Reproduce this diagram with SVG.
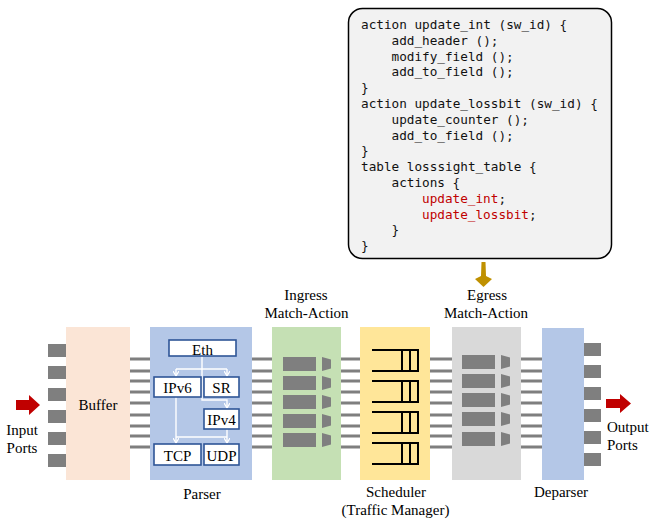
<svg xmlns="http://www.w3.org/2000/svg" width="650" height="521" viewBox="0 0 650 521">
<style>
  .lbl { font-family: "Liberation Serif", "Times New Roman", serif; font-size: 15px; fill: #000; }
  .mid { text-anchor: middle; }
  .code { font-family: "DejaVu Sans Mono", "Liberation Mono", monospace; font-size: 12.7px; fill: #111; }
  .red { fill: #C00000; }
  .port { fill: #7F7F7F; }
  .wire { stroke: #7F7F7F; stroke-width: 3; }
  .pbox { fill: #FFFFFF; stroke: #2F5597; stroke-width: 1.6; }
  .warrow { fill: none; stroke: #FFFFFF; stroke-width: 1.4; }
  .bar { fill: #7F7F7F; }
  .q { fill: none; stroke: #000; stroke-width: 2; }
</style>
<defs>
  <marker id="wh" markerWidth="6" markerHeight="6" refX="5" refY="3" orient="auto" markerUnits="userSpaceOnUse">
    <path d="M0,0 L5,3 L0,6" fill="none" stroke="#FFFFFF" stroke-width="1.2"/>
  </marker>
  <g id="trap"><polygon points="0,0 9,2.5 9,11.5 0,14" fill="#7F7F7F"/></g>
  <g id="queue">
    <path class="q" d="M372,0 H418 V21 H372 M402,0 V21 M410,0 V21"/>
  </g>
</defs>

<!-- code box -->
<g id="code-box">
  <rect x="348.5" y="8.5" width="263" height="250" rx="14" fill="#F2F2F2" stroke="#000" stroke-width="1.5"/>
  <text class="code">
    <tspan x="361" y="29">action update_int (sw_id) {</tspan>
    <tspan x="391.5" y="44.8">add_header ();</tspan>
    <tspan x="391.5" y="60.6">modify_field ();</tspan>
    <tspan x="391.5" y="76.4">add_to_field ();</tspan>
    <tspan x="361" y="92.2">}</tspan>
    <tspan x="361" y="108">action update_lossbit (sw_id) {</tspan>
    <tspan x="391.5" y="123.8">update_counter ();</tspan>
    <tspan x="391.5" y="139.6">add_to_field ();</tspan>
    <tspan x="361" y="155.4">}</tspan>
    <tspan x="361" y="171.2">table losssight_table {</tspan>
    <tspan x="391.5" y="187">actions {</tspan>
    <tspan x="422" y="202.8" class="red">update_int</tspan><tspan>;</tspan>
    <tspan x="422" y="218.6" class="red">update_lossbit</tspan><tspan>;</tspan>
    <tspan x="391.5" y="234.4">}</tspan>
    <tspan x="361" y="250.2">}</tspan>
  </text>
</g>

<!-- connectors -->
<g id="connectors">
  <g id="wires">
    <path class="wire" d="M130,359H150 M130,371H150 M130,381H150 M130,392H150 M130,403H150 M130,415H150 M130,426H150 M130,436H150 M130,447H150"/>
    <path class="wire" d="M252,359H272 M252,371H272 M252,381H272 M252,392H272 M252,403H272 M252,415H272 M252,426H272 M252,436H272 M252,447H272"/>
    <path class="wire" d="M341,359H360 M341,371H360 M341,381H360 M341,392H360 M341,403H360 M341,415H360 M341,426H360 M341,436H360 M341,447H360"/>
    <path class="wire" d="M430,359H452 M430,371H452 M430,381H452 M430,392H452 M430,403H452 M430,415H452 M430,426H452 M430,436H452 M430,447H452"/>
    <path class="wire" d="M521,359H542 M521,371H542 M521,381H542 M521,392H542 M521,403H542 M521,415H542 M521,426H542 M521,436H542 M521,447H542"/>
  </g>
  <path id="in-arrow" d="M16,400 H29 V395 L40,405 L29,415 V410 H16 Z" fill="#C00000"/>
  <path id="out-arrow" d="M606,399 H620 V394 L631,403.5 L620,413 V408 H606 Z" fill="#C00000"/>
  <path id="code-arrow" d="M481.5,262 L485.5,262 L486,276 L492,279 L483.5,287 L475,279 L481,276 Z" fill="#BF9000"/>
</g>

<!-- input ports -->
<g id="input-ports">
  <rect class="port" x="48" y="344" width="18" height="13"/>
  <rect class="port" x="48" y="366" width="18" height="13"/>
  <rect class="port" x="48" y="388" width="18" height="13"/>
  <rect class="port" x="48" y="410" width="18" height="13"/>
  <rect class="port" x="48" y="432" width="18" height="13"/>
  <rect class="port" x="48" y="454" width="18" height="13"/>
  <text class="lbl mid" x="22" y="435">Input</text>
  <text class="lbl mid" x="22" y="453">Ports</text>
</g>

<!-- buffer -->
<g id="buffer">
  <rect x="66" y="327" width="64" height="153" fill="#FBE5D6"/>
  <text class="lbl mid" x="98" y="410">Buffer</text>
</g>

<!-- parser -->
<g id="parser">
  <rect x="150" y="327" width="102" height="153" fill="#B4C7E7"/>
  <text class="lbl mid" x="202" y="499">Parser</text>
  <g id="parser-arrows">
    <path class="warrow" d="M202,356 V400 H227 V408" marker-end="url(#wh)"/>
    <path class="warrow" d="M176,369 H227"/>
    <path class="warrow" d="M176,369 V376" marker-end="url(#wh)"/>
    <path class="warrow" d="M227,369 V376" marker-end="url(#wh)"/>
    <path class="warrow" d="M176,397 V443" marker-end="url(#wh)"/>
    <path class="warrow" d="M176,437 H227"/>
    <path class="warrow" d="M227,429 V443" marker-end="url(#wh)"/>
  </g>
  <g id="eth"><rect class="pbox" x="169" y="340" width="67" height="16"/><text class="lbl mid" x="202.5" y="354.5">Eth</text></g>
  <g id="ipv6"><rect class="pbox" x="154" y="377" width="47" height="20"/><text class="lbl mid" x="177.5" y="393">IPv6</text></g>
  <g id="sr"><rect class="pbox" x="204" y="377" width="35" height="20"/><text class="lbl mid" x="221.5" y="393">SR</text></g>
  <g id="ipv4"><rect class="pbox" x="204" y="409" width="35" height="20"/><text class="lbl mid" x="221.5" y="425">IPv4</text></g>
  <g id="tcp"><rect class="pbox" x="154" y="444" width="47" height="21"/><text class="lbl mid" x="177.5" y="461">TCP</text></g>
  <g id="udp"><rect class="pbox" x="204" y="444" width="35" height="21"/><text class="lbl mid" x="221.5" y="461">UDP</text></g>
</g>

<!-- ingress -->
<g id="ingress">
  <rect x="272" y="327" width="69" height="153" fill="#C5E0B4"/>
  <rect class="bar" x="283" y="357" width="33" height="14"/>
  <rect class="bar" x="283" y="376" width="33" height="14"/>
  <rect class="bar" x="283" y="395" width="33" height="14"/>
  <rect class="bar" x="283" y="414" width="33" height="14"/>
  <rect class="bar" x="283" y="433" width="33" height="14"/>
  <use href="#trap" x="322" y="357"/>
  <use href="#trap" x="322" y="376"/>
  <use href="#trap" x="322" y="395"/>
  <use href="#trap" x="322" y="414"/>
  <use href="#trap" x="322" y="433"/>
  <text class="lbl mid" x="306" y="300">Ingress</text>
  <text class="lbl mid" x="306.5" y="318">Match-Action</text>
</g>

<!-- scheduler -->
<g id="scheduler">
  <rect x="360" y="327" width="70" height="153" fill="#FFE699"/>
  <use href="#queue" y="350"/>
  <use href="#queue" y="381"/>
  <use href="#queue" y="412"/>
  <use href="#queue" y="443"/>
  <text class="lbl mid" x="396" y="497">Scheduler</text>
  <text class="lbl mid" x="395.5" y="515">(Traffic Manager)</text>
</g>

<!-- egress -->
<g id="egress">
  <rect x="452" y="327" width="69" height="153" fill="#D9D9D9"/>
  <rect class="bar" x="462" y="355" width="33" height="14"/>
  <rect class="bar" x="462" y="374" width="33" height="14"/>
  <rect class="bar" x="462" y="393" width="33" height="14"/>
  <rect class="bar" x="462" y="412" width="33" height="14"/>
  <rect class="bar" x="462" y="432" width="33" height="14"/>
  <use href="#trap" x="501" y="355"/>
  <use href="#trap" x="501" y="374"/>
  <use href="#trap" x="501" y="393"/>
  <use href="#trap" x="501" y="412"/>
  <use href="#trap" x="501" y="432"/>
  <text class="lbl mid" x="487" y="300">Egress</text>
  <text class="lbl mid" x="486" y="318">Match-Action</text>
</g>

<!-- deparser -->
<g id="deparser">
  <rect x="542" y="328" width="42" height="152" fill="#B4C7E7"/>
  <text class="lbl mid" x="561" y="497">Deparser</text>
</g>

<!-- output ports -->
<g id="output-ports">
  <rect class="port" x="584" y="343" width="17" height="13"/>
  <rect class="port" x="584" y="365" width="17" height="13"/>
  <rect class="port" x="584" y="387" width="17" height="13"/>
  <rect class="port" x="584" y="409" width="17" height="13"/>
  <rect class="port" x="584" y="431" width="17" height="13"/>
  <rect class="port" x="584" y="453" width="17" height="13"/>
  <text class="lbl" x="607" y="432">Output</text>
  <text class="lbl" x="607" y="450">Ports</text>
</g>
</svg>
